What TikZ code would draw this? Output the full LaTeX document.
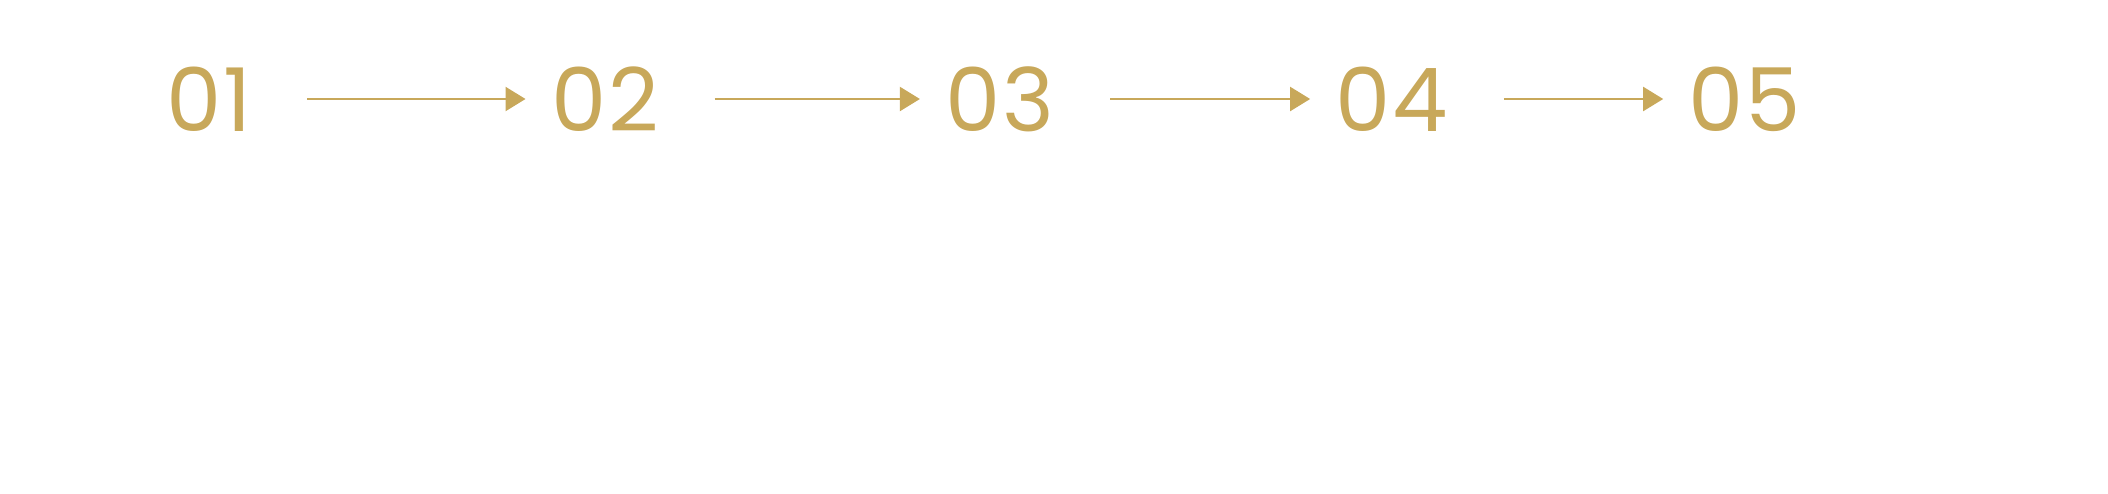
\documentclass[tikz,border=0pt]{standalone}
\usepackage{fontspec}
\setmainfont{Poppins}
\usetikzlibrary{arrows.meta}
\definecolor{gold}{HTML}{C8A85A}
\begin{document}
\begin{tikzpicture}[x=0.01cm,y=0.01cm,
  num/.style={text=gold,inner sep=0pt,font=\fontsize{25}{25}\selectfont\addfontfeatures{LetterSpace=2}},
  arr/.style={draw=gold,line width=0.6pt,-{Triangle[length=0.2cm,width=0.24cm]},shorten <=0.55cm,shorten >=0.25cm}]
\useasboundingbox (0,0) rectangle (2108,493);
\node[num] (n1) at (209,394) {01};
\node[num] (n2) at (605,394) {02};
\node[num] (n3) at (1000,394) {03};
\node[num] (n4) at (1392,394) {04};
\node[num] (n5) at (1745,394) {05};
\draw[arr] (n1.east) -- (n2.west);
\draw[arr] (n2.east) -- (n3.west);
\draw[arr] (n3.east) -- (n4.west);
\draw[arr] (n4.east) -- (n5.west);
\end{tikzpicture}
\end{document}
